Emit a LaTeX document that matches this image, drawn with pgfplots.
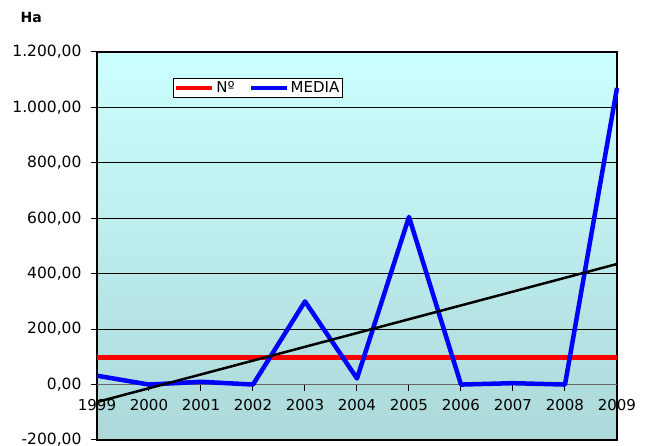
\documentclass[border=0pt]{standalone}
\usepackage{fontspec}
\setmainfont{DejaVu Sans}
\usepackage{pgfplots}
\pgfplotsset{compat=1.18}

\definecolor{bgtop}{RGB}{204,255,255}
\definecolor{bgbot}{RGB}{172,216,216}

\begin{document}
\begin{tikzpicture}
% frame, background, grid and y ticks
\begin{axis}[
  scale only axis, width=520pt, height=388pt,
  xmin=1999, xmax=2009, ymin=-200, ymax=1200,
  xtick=\empty,
  ytick={-200,0,...,1200},
  ymajorgrids,
  grid style={black, line width=0.8pt},
  axis line style={black, line width=1.2pt},
  ytick align=outside, ytick pos=left,
  major tick length=6pt,
  tick style={black, line width=1pt},
  axis background/.style={top color=bgtop, bottom color=bgbot},
  /pgf/number format/.cd, fixed, fixed zerofill, precision=2,
    use comma, 1000 sep={.}, assume math mode=true,
  /pgfplots/.cd,
  yticklabel style={font=\fontsize{15.5}{17}\selectfont, xshift=-6pt},
]
\end{axis}
% x axis at zero and the data
\begin{axis}[
  scale only axis, width=520pt, height=388pt,
  xmin=1999, xmax=2009, ymin=-200, ymax=1200,
  axis x line=middle, axis y line=none,
  axis line style={-, black!60, line width=1.5pt},
  xtick={1999,...,2009},
  xtick align=outside,
  major tick length=6pt,
  tick style={black, line width=1pt},
  xticklabel style={font=\fontsize{15}{17}\selectfont, yshift=-5pt},
  /pgf/number format/.cd, 1000 sep={}, assume math mode=true,
  /pgfplots/.cd,
  legend style={at={(0.146,0.933)}, anchor=north west, legend columns=2,
    fill=white, draw=black, line width=0.8pt,
    font=\fontsize{15}{17}\selectfont, inner sep=1pt,
    /tikz/every even column/.append style={column sep=12pt}},
  legend image code/.code={\draw[#1, line width=4pt] (0pt,0pt) -- (36pt,0pt);},
  clip=false,
]
\addplot[red, line width=4.5pt] coordinates {
  (1999,97) (2000,97) (2001,97) (2002,97) (2003,97) (2004,97)
  (2005,97) (2006,97) (2007,97) (2008,97) (2009,97)};
\addplot[blue, line width=4.5pt, line join=round] coordinates {
  (1999,32) (2000,0) (2001,10) (2002,0) (2003,300) (2004,22)
  (2005,605) (2006,0) (2007,5) (2008,0) (2009,1070)};
\addplot[black, line width=2.5pt, forget plot] coordinates {
  (1999,-63) (2009,435)};
\legend{Nº, MEDIA}
\end{axis}
\node[anchor=west, font=\bfseries\fontsize{14}{16}\selectfont] at (-80pt,422pt) {Ha};
\pgfresetboundingbox
\path[use as bounding box] (-97pt,-6pt) rectangle (552pt,440pt);
\end{tikzpicture}
\end{document}
